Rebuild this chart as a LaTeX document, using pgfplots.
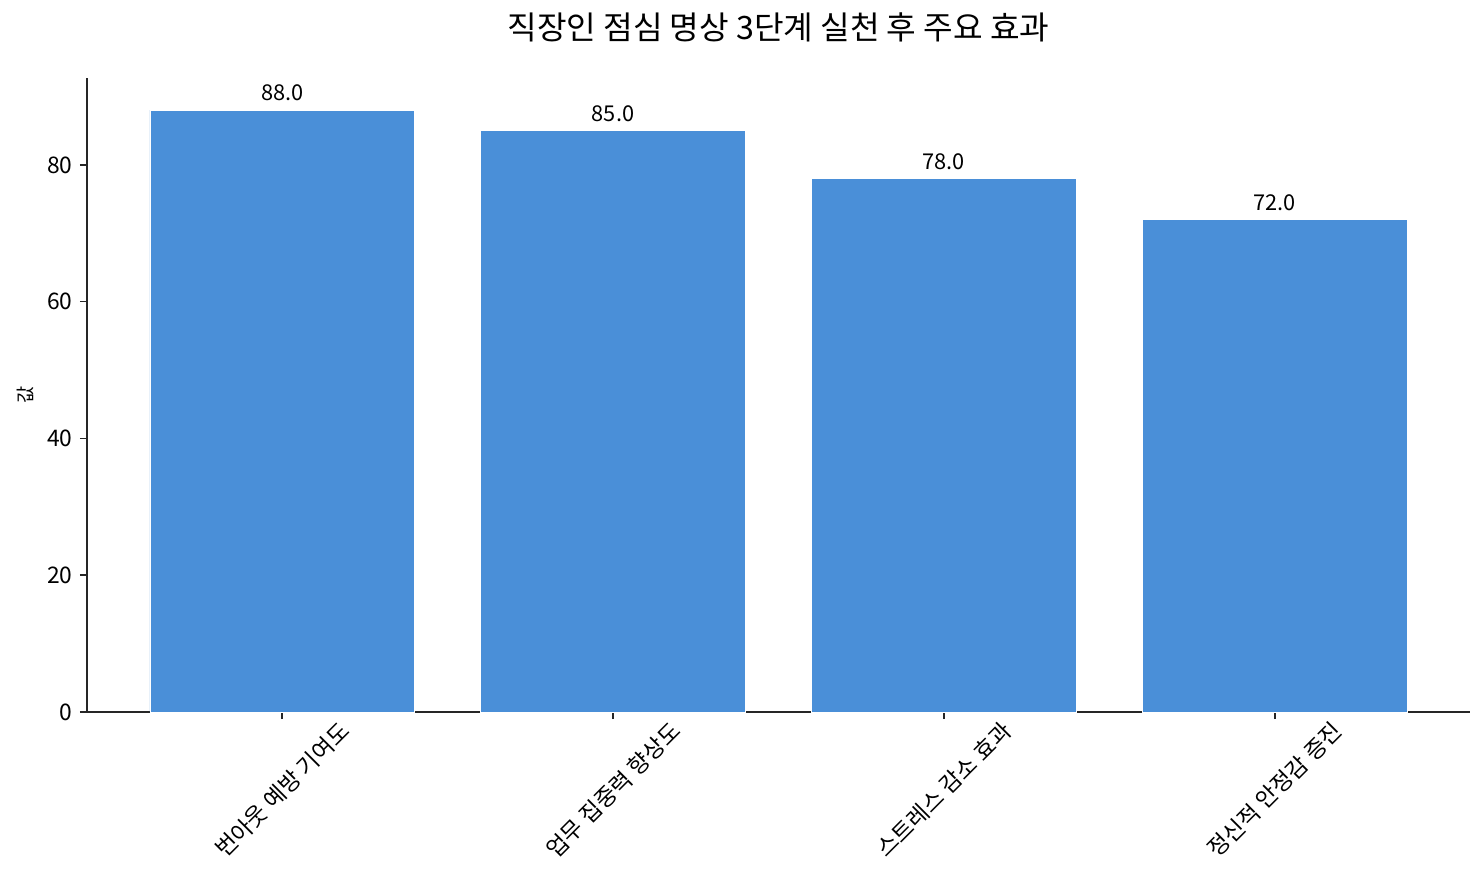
\documentclass[border=0pt]{standalone}
\usepackage{pgfplots}
\pgfplotsset{compat=1.18}
\usepackage{fontspec}
\setmainfont{Noto Sans CJK KR}
\definecolor{barblue}{RGB}{74,143,216}
\definecolor{spine}{RGB}{38,38,38}

\begin{document}
\begin{tikzpicture}[x=1bp,y=1bp]
    \begin{axis}[
        at={(0,0)}, anchor=south west,
        scale only axis,
        width=663.8bp, height=304.3bp,
        xmin=-0.59, xmax=3.59,
        ymin=0, ymax=92.7,
        axis x line*=bottom,
        axis y line*=left,
        axis line style={spine, line width=0.8pt},
        tick style={spine, line width=0.8pt},
        tick align=outside,
        major tick length=3.4bp,
        xtick={0,1,2,3},
        xticklabels={번아웃 예방 기여도, 업무 집중력 향상도, 스트레스 감소 효과, 정신적 안정감 증진},
        xticklabel style={font=\fontsize{11}{13}\selectfont, anchor=center, yshift=-34bp, rotate=45},
        ytick={0,20,40,60,80},
        yticklabel style={font=\fontsize{11}{13}\selectfont},
        /pgf/number format/assume math mode=true,
        ylabel={값},
        ylabel style={at={(axis description cs:-0.0448,0.5)}, anchor=center, font=\fontsize{9}{11}\selectfont},
        title={직장인 점심 명상 3단계 실천 후 주요 효과},
        title style={at={(axis description cs:0.5,1.060)}, anchor=center, font=\fontsize{15.5}{18}\selectfont},
        ybar, bar width=0.8,
        nodes near coords,
        point meta=y,
        nodes near coords style={font=\fontsize{10.5}{12}\selectfont, anchor=base, yshift=4.5bp, inner sep=0pt,
            /pgf/number format/.cd, fixed, fixed zerofill, precision=1, assume math mode=true},
    ]
    \addplot[fill=barblue, draw=white, line width=0.3pt] coordinates {
        (0, 88)
        (1, 85)
        (2, 78)
        (3, 72)
    };
    \end{axis}
    \pgfresetboundingbox
    \path (-41.76bp,-82.56bp) rectangle (670.56bp,341.76bp);
\end{tikzpicture}
\end{document}
